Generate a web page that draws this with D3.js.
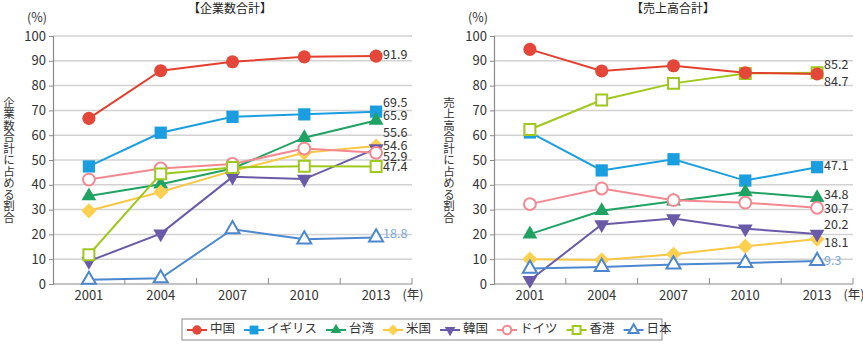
<!DOCTYPE html>
<html>
<head>
<meta charset="utf-8">
<script src="https://cdn.jsdelivr.net/npm/d3@7"></script>
<style>
  body { margin: 0; background: #fff; }
  svg { font-family: "Noto Sans CJK JP", "Noto Sans", sans-serif; }
</style>
</head>
<body>
<svg id="chart" width="863" height="344"></svg>
<script>
// Years and countries
const years = ["2001", "2004", "2007", "2010", "2013"];
const countries = ["中国", "イギリス", "台湾", "米国", "韓国", "ドイツ", "香港", "日本"];
const yTicks = [0, 10, 20, 30, 40, 50, 60, 70, 80, 90, 100];

// Share of total number of firms (%) — one row per country
const firmShares = [
  [66.8, 86.0, 89.6, 91.6, 91.9],
  [47.4, 61.0, 67.4, 68.4, 69.5],
  [35.5, 40.2, 46.6, 59.0, 65.9],
  [29.5, 37.1, 45.6, 52.9, 55.6],
  [9.2, 20.3, 43.2, 42.3, 54.6],
  [42.1, 46.6, 48.4, 54.6, 52.9],
  [11.8, 44.4, 47.0, 47.5, 47.4],
  [1.7, 2.3, 22.1, 18.0, 18.8]
];

// Share of total sales (%)
const salesShares = [
  [94.6, 85.9, 88.0, 85.2, 84.7],
  [61.1, 45.8, 50.3, 41.7, 47.1],
  [20.1, 29.5, 33.4, 37.1, 34.8],
  [10.0, 9.7, 12.0, 15.2, 18.1],
  [1.5, 24.0, 26.4, 22.3, 20.2],
  [32.2, 38.5, 33.8, 32.8, 30.7],
  [62.3, 74.2, 80.9, 84.9, 85.2],
  [6.2, 6.9, 7.9, 8.5, 9.3]
];

const COLORS = ["#e5463a", "#1b9ee0", "#1fa262", "#fdd04f", "#6a5aa8", "#f38891", "#9fc81d", "#4d88cf"];
const SHAPES = ["circle", "square", "triUp", "diamond", "triDown", "openCircle", "openSquare", "openTriUp"];
const LINE_COLORS = ["#e3402f", "#1b9ee0", "#1fa262", "#f8c844", "#6a5aa8", "#f38891", "#9fc81d", "#4d88cf"];

const svg = d3.select("#chart");

// Marker path for each shape
const markerPath = (shape, k) => {
  const s = k || 1;
  switch (shape) {
    case "circle": return d3.symbol(d3.symbolCircle, 135 * s * s)();
    case "openCircle": return d3.symbol(d3.symbolCircle, 110 * s * s)();
    case "square": return d3.symbol(d3.symbolSquare, 150 * s * s)();
    case "openSquare": return d3.symbol(d3.symbolSquare, 120 * s * s)();
    case "diamond": return d3.symbol(d3.symbolSquare, 115 * s * s)();
    case "triUp":
    case "triDown": return d3.symbol(d3.symbolTriangle, 95 * s * s)();
    case "openTriUp": return d3.symbol(d3.symbolTriangle, 85 * s * s)();
  }
};
const markerRotate = (shape) => shape === "diamond" ? 45 : shape === "triDown" ? 180 : 0;
const isOpen = (shape) => shape.startsWith("open");

const drawMarker = (g, shape, color, x, y, k) => {
  g.append("path")
    .attr("d", markerPath(shape, k))
    .attr("transform", `translate(${x},${y}) rotate(${markerRotate(shape)})`)
    .style("fill", isOpen(shape) ? "#fff" : color)
    .style("stroke", isOpen(shape) ? color : "none")
    .style("stroke-width", 2);
};

const drawPanel = (opt) => {
  const g = svg.append("g");
  const xScale = d3.scaleBand().domain(years).range([opt.left, opt.right]);
  const yScale = d3.scaleLinear().domain([0, 100]).range([284, 36]);
  const xc = (d) => xScale(d) + xScale.bandwidth() / 2;

  // Gridlines
  g.selectAll(".grid")
    .data(yTicks.slice(1))
    .enter()
    .append("line")
    .attr("x1", opt.left)
    .attr("x2", opt.right)
    .attr("y1", (d) => yScale(d))
    .attr("y2", (d) => yScale(d))
    .style("stroke", "#d2d2d2")
    .style("stroke-width", 1.5);

  // Y axis
  const yAxis = d3.axisLeft(yScale).tickValues(yTicks).tickSize(4).tickPadding(3);
  const yG = g.append("g").attr("transform", `translate(${opt.left},0)`).call(yAxis);
  yG.select(".domain").style("stroke", "#8a8a8a").style("stroke-width", 1.2);
  yG.selectAll(".tick line").style("stroke", "#8a8a8a");
  yG.selectAll(".tick text")
    .style("font-family", "'Noto Sans CJK JP', sans-serif")
    .style("font-size", "13px")
    .style("fill", "#333");

  // X axis: ticks between years pointing inward
  g.append("line")
    .attr("x1", opt.left).attr("x2", opt.right)
    .attr("y1", 284).attr("y2", 284)
    .style("stroke", "#8a8a8a").style("stroke-width", 1.2);
  g.selectAll(".xtick")
    .data(years.slice(1).map((d) => xScale(d)).concat([opt.right]))
    .enter()
    .append("line")
    .attr("x1", (d) => d).attr("x2", (d) => d)
    .attr("y1", 284).attr("y2", 278)
    .style("stroke", "#8a8a8a");
  g.selectAll(".xlabel")
    .data(years)
    .enter()
    .append("text")
    .attr("x", (d) => xc(d))
    .attr("y", 296)
    .attr("text-anchor", "middle")
    .attr("dominant-baseline", "middle")
    .style("font-size", "13px")
    .style("fill", "#333")
    .text((d) => d);
  g.append("text")
    .attr("x", opt.right + 1)
    .attr("y", 296)
    .attr("text-anchor", "middle")
    .attr("dominant-baseline", "middle")
    .style("font-size", "12.5px")
    .style("fill", "#333")
    .text("(年)");

  // Titles
  g.append("text")
    .attr("x", opt.titleX).attr("y", 10)
    .attr("text-anchor", "middle").attr("dominant-baseline", "middle")
    .style("font-size", "12px").style("fill", "#222")
    .text(opt.title);
  g.append("text")
    .attr("x", opt.left - 16).attr("y", 19)
    .attr("text-anchor", "middle").attr("dominant-baseline", "middle")
    .style("font-size", "12.5px").style("fill", "#333")
    .text("(%)");
  g.append("text")
    .attr("x", opt.labelX).attr("y", 160)
    .attr("text-anchor", "middle")
    .style("writing-mode", "vertical-rl")
    .style("text-orientation", "upright")
    .style("font-size", "11.5px").style("fill", "#333")
    .text(opt.yLabel);

  // Series: lines then markers, China drawn last
  const order = [1, 2, 3, 4, 5, 6, 7, 0];
  const line = d3.line().x((d, i) => xc(years[i])).y((d) => yScale(d));
  order.forEach((k) => {
    const sg = g.append("g");
    sg.append("path")
      .attr("d", line(opt.values[k]))
      .style("fill", "none")
      .style("stroke", LINE_COLORS[k])
      .style("stroke-width", 2);
    opt.values[k].forEach((v, i) => drawMarker(sg, SHAPES[k], COLORS[k], xc(years[i]), yScale(v)));
  });

  // End labels
  const xEnd = xc(years[years.length - 1]) + 7;
  opt.values.forEach((vals, k) => {
    const v = vals[vals.length - 1];
    g.append("text")
      .attr("x", xEnd)
      .attr("y", yScale(v) + opt.labelShift[k])
      .attr("dominant-baseline", "middle")
      .style("font-size", "12.5px")
      .style("fill", k === 7 ? "#7ba7dc" : "#333")
      .text(v.toFixed(1));
  });
};

drawPanel({
  left: 53, right: 412, titleX: 230,
  title: "【企業数合計】",
  yLabel: "企業数合計に占める割合",
  labelX: 9,
  values: firmShares,
  labelShift: [0, -8.5, -3.5, -13, -1.5, 4.5, 1.5, -3]
});

drawPanel({
  left: 494, right: 853, titleX: 673,
  title: "【売上高合計】",
  yLabel: "売上高合計に占める割合",
  labelX: 449,
  values: salesShares,
  labelShift: [9, -1, -1.7, 4, -8, 2, -6.7, 1]
});

// Legend
const legend = svg.append("g").attr("id", "legend");
legend.append("rect")
  .attr("x", 182).attr("y", 319).attr("width", 480).attr("height", 21)
  .style("fill", "#fff").style("stroke", "#8a8a8a").style("stroke-width", 1);
let lx = 187;
countries.forEach((c, k) => {
  const item = legend.append("g");
  item.append("line")
    .attr("x1", lx).attr("x2", lx + 20)
    .attr("y1", 330).attr("y2", 330)
    .style("stroke", LINE_COLORS[k]).style("stroke-width", 2);
  drawMarker(item, SHAPES[k], COLORS[k], lx + 10, 330, 0.72);
  const t = item.append("text")
    .attr("x", lx + 23).attr("y", 330)
    .attr("dominant-baseline", "middle")
    .style("font-size", "12.5px").style("fill", "#333")
    .text(c);
  lx += 23 + t.node().getComputedTextLength() + 9;
});
</script>
</body>
</html>
